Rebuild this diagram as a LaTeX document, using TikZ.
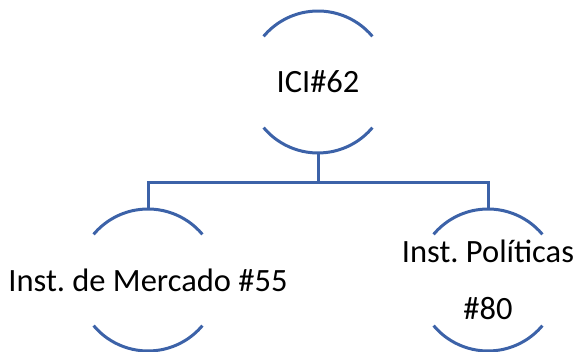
\documentclass[tikz,border=0pt]{standalone}
\usepackage{fontspec}
\setmainfont{Carlito}
\usetikzlibrary{positioning}
\frenchspacing
\definecolor{lineColor}{RGB}{60,98,168}
\tikzstyle{chart} = [x = 1pt, y = 1pt]
\tikzstyle{ringStyle} = [circle, minimum size = 142pt, inner sep = 0pt, outer sep = 0pt]
\tikzstyle{arcLine} = [color=lineColor, line width = 3pt]
\tikzstyle{ringText} = [font=\fontsize{32.5}{57}\selectfont, align=center, inner sep = 0pt]
\newcommand{\ringRadius}{71pt}
\newcommand{\ringArcs}[1]{
  \draw [arcLine] (#1.40) arc [start angle = 40, end angle = 140, radius = \ringRadius];
  \draw [arcLine] (#1.-140) arc [start angle = -140, end angle = -40, radius = \ringRadius];
}

\begin{document}
\begin{tikzpicture}[chart]
       \useasboundingbox (0,0) rectangle (574,352);
       \node [ringStyle] (ici) at (318,270) {};
       \node [ringStyle] (mercado) at (148,72) {};
       \node [ringStyle] (politicas) at (488,72) {};
       \ringArcs{ici}
       \ringArcs{mercado}
       \ringArcs{politicas}
       \node [ringText] (iciText) at (ici) {ICI\#62};
       \node [ringText] (mercadoText) at (mercado) {Inst. de Mercado \#55};
       \node [ringText] (politicasText) at (politicas) {Inst. Políticas\\\#80};
       \draw [arcLine] (ici.south) -- ++(0,-30) -| (mercado.north);
       \draw [arcLine] (ici.south) -- ++(0,-30) -| (politicas.north);
     \end{tikzpicture}
\end{document}
